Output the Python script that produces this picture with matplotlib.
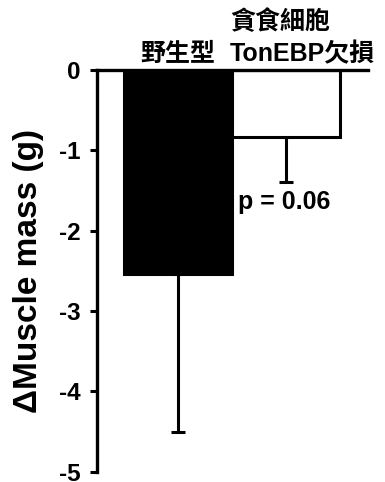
import matplotlib
matplotlib.use("Agg")
import matplotlib.pyplot as plt

categories = ["野生型", "貪食細胞\nTonEBP欠損"]
means = [-2.54, -0.83]
sds = [1.97, 0.57]
colors = ["black", "white"]
yticks = [0, -1, -2, -3, -4, -5]
ylabel = "ΔMuscle mass (g)"
ptext = "p = 0.06"

fam = ["Liberation Sans", "Noto Sans CJK TC", "DejaVu Sans"]
plt.rcParams["font.family"] = fam

fig = plt.figure(figsize=(3.85, 4.82), dpi=100)
ax = fig.add_axes([0.252, 0.0214, 0.704, 0.8334])

x = list(range(len(categories)))
ax.bar(x, means, width=1.0, color=colors, edgecolor="black", linewidth=2.2, zorder=2)
ax.errorbar(x, means, yerr=[sds, [0] * len(sds)], fmt="none", ecolor="black",
            elinewidth=2.2, capsize=5, capthick=2.2, zorder=1)

ax.set_xlim(-0.75, 1.76)
ax.set_ylim(-5, 0)
ax.set_yticks(yticks)
ax.tick_params(axis="y", length=5, width=2.2, pad=7, labelsize=17.5)
ax.set_yticklabels([str(t) for t in yticks], fontsize=17.5, fontweight="bold")
ax.set_xticks([])

for s in ["bottom", "right"]:
    ax.spines[s].set_visible(False)
for s in ["left", "top"]:
    ax.spines[s].set_linewidth(2.4)

ax.set_ylabel(ylabel, fontsize=24, fontweight="bold", va="center")
ax.yaxis.set_label_coords(-0.251, 0.5)

# category labels (lines drawn bottom-up, pitch ~32 px = 0.395 data units)
line_pitch = 0.395
base_y = 0.112
for i, lab in enumerate(categories):
    lines = lab.split("\n")
    if i == 0:
        xpos, ha = x[i], "center"
    else:
        xpos, ha = x[i] - 0.52, "left"
    for j, line in enumerate(reversed(lines)):
        ax.text(xpos, base_y + j * line_pitch, line, ha=ha, va="baseline",
                fontsize=18, fontweight="bold", clip_on=False)

ax.text(x[1] - 0.444, -1.731, ptext, ha="left", va="baseline",
        fontsize=18, fontweight="bold")

fig.savefig("out.png", dpi=100)
